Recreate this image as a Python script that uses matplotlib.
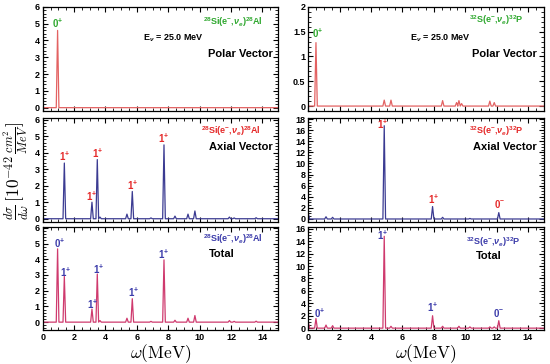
import matplotlib.pyplot as plt
from matplotlib.ticker import MultipleLocator, FormatStrFormatter

plt.rcParams["font.family"] = ["Liberation Sans", "DejaVu Sans"]
plt.rcParams["mathtext.fontset"] = "custom"
plt.rcParams["mathtext.rm"] = "Liberation Sans:bold"
plt.rcParams["mathtext.it"] = "Liberation Sans:italic:bold"
plt.rcParams["mathtext.bf"] = "Liberation Sans:bold"

# peak positions (MeV) and heights
si_polar_x = [0.95]
si_polar_y = [4.6]
si_axial_x = [1.38, 3.14, 3.48, 3.65, 5.37, 5.71, 6.9, 7.73, 8.43, 9.26, 9.7, 11.9, 12.2, 13.6]
si_axial_y = [3.37, 1.0, 3.58, 0.1, 0.28, 1.65, 0.05, 4.47, 0.16, 0.28, 0.47, 0.1, 0.05, 0.06]
si_total_x = [0.95, 1.38, 3.14, 3.48, 3.65, 5.37, 5.71, 6.9, 7.73, 8.43, 9.26, 9.7, 11.9, 12.2, 13.6]
si_total_y = [4.66, 2.91, 0.83, 3.06, 0.1, 0.25, 1.49, 0.05, 3.96, 0.12, 0.25, 0.42, 0.1, 0.05, 0.06]

s_polar_x = [0.49, 4.84, 5.27, 8.56, 9.45, 9.6, 9.77, 11.57, 11.85]
s_polar_y = [1.28, 0.12, 0.12, 0.11, 0.07, 0.11, 0.05, 0.1, 0.07]
s_axial_x = [0.0, 1.13, 1.55, 4.84, 7.92, 8.56, 10.3, 12.14]
s_axial_y = [1.0, 0.4, 0.3, 16.8, 2.24, 0.3, 0.1, 1.15]
s_total_x = [0.0, 0.49, 1.13, 1.55, 4.84, 5.27, 7.92, 8.56, 9.6, 10.3, 11.57, 11.85, 12.14]
s_total_y = [1.0, 1.55, 0.5, 0.4, 14.8, 0.3, 2.0, 0.3, 0.3, 0.2, 0.2, 0.2, 1.2]

# peak labels: text, x, y (label centre)
si_polar_lab = [("0$^{+}$", 0.98, 5.04)]
si_axial_lab = [("1$^{+}$", 1.38, 3.78), ("1$^{+}$", 3.14, 1.38), ("1$^{+}$", 3.5, 3.94),
                ("1$^{+}$", 5.71, 2.0), ("1$^{+}$", 7.73, 4.84)]
si_total_lab = [("0$^{+}$", 1.06, 5.0), ("1$^{+}$", 1.44, 3.19), ("1$^{+}$", 3.18, 1.1),
                ("1$^{+}$", 3.58, 3.38), ("1$^{+}$", 5.77, 1.89), ("1$^{+}$", 7.73, 4.32)]
s_polar_lab = [("0$^{+}$", 0.57, 1.47)]
s_axial_lab = [("1$^{+}$", 4.71, 17.1), ("1$^{+}$", 7.96, 3.58), ("0$^{-}$", 12.17, 2.67)]
s_total_lab = [("0$^{+}$", 0.7, 2.35), ("1$^{+}$", 4.71, 15.0), ("1$^{+}$", 7.9, 3.3),
               ("0$^{-}$", 12.1, 2.5)]

si_reac = "$^{28}$Si(e$^{-}$,$\\nu_{e}$)$^{28}$Al"
s_reac = "$^{32}$S(e$^{-}$,$\\nu_{e}$)$^{32}$P"

POLAR = "#e36262"
AXIAL = "#3b3b92"
TOTAL = "#cf3a6e"
GREEN = "#2fa82f"
RED = "#e52a2a"
BLUE = "#3c3caa"


def spectrum(px, py, w=0.085):
    xs, ys = [0.0], [0.0]
    for p, h in sorted(zip(px, py)):
        xs += [p - w, p, p + w]
        ys += [0.0, h, 0.0]
    xs.append(15.0)
    ys.append(0.0)
    return xs, ys


def panel(ax, px, py, color, ylim, ymaj, ymin, labels, labcol, reac, reacpos,
          title, titlepos, bottom=False, energy=None):
    xs, ys = spectrum(px, py)
    ax.plot(xs, ys, color=color, lw=0.9)
    ax.set_xlim(0, 15)
    ax.set_ylim(*ylim)
    ax.xaxis.set_major_locator(MultipleLocator(2))
    ax.xaxis.set_minor_locator(MultipleLocator(0.5))
    ax.yaxis.set_major_locator(MultipleLocator(ymaj))
    ax.yaxis.set_minor_locator(MultipleLocator(ymin))
    ax.yaxis.set_major_formatter(FormatStrFormatter("%g"))
    ax.tick_params(which="both", direction="in", top=True, right=True,
                   labelsize=6.5, pad=2)
    ax.tick_params(which="major", length=3.5)
    ax.tick_params(which="minor", length=2)
    for t in ax.get_xticklabels() + ax.get_yticklabels():
        t.set_fontweight("bold")
    if not bottom:
        ax.set_xticklabels([])
    for sp in ax.spines.values():
        sp.set_linewidth(0.9)
    for txt, x, y in labels:
        ax.text(x, y, txt, ha="center", va="center", color=labcol, fontsize=7,
                fontweight="bold")
    ax.text(*reacpos, reac, transform=ax.transAxes, ha="center", va="center",
            color=labcol, fontsize=6.5, fontweight="bold")
    ax.text(*titlepos, title, transform=ax.transAxes, ha="center", va="center",
            fontsize=8, fontweight="bold")
    if energy is not None:
        ax.text(*energy, "E$_{\\nu}$ = 25.0 MeV", transform=ax.transAxes,
                ha="center", va="center", fontsize=6.5, fontweight="bold")


fig = plt.figure(figsize=(5.5, 3.64), dpi=100)
lx, rx, w = 0.0776, 0.5605, 0.428
rows = [(0.695, 0.286), (0.39, 0.286), (0.0934, 0.283)]

ax = fig.add_axes([lx, rows[0][0], w, rows[0][1]])
panel(ax, si_polar_x, si_polar_y, POLAR, (-0.2, 6.0), 1, 0.2, si_polar_lab, GREEN,
      si_reac, (0.81, 0.85), "Polar Vector", (0.84, 0.55), energy=(0.555, 0.70))
ax = fig.add_axes([lx, rows[1][0], w, rows[1][1]])
panel(ax, si_axial_x, si_axial_y, AXIAL, (-0.2, 6.1), 1, 0.2, si_axial_lab, RED,
      si_reac, (0.80, 0.87), "Axial Vector", (0.84, 0.72))
ax = fig.add_axes([lx, rows[2][0], w, rows[2][1]])
panel(ax, si_total_x, si_total_y, TOTAL, (-0.5, 6.05), 1, 0.2, si_total_lab, BLUE,
      si_reac, (0.81, 0.88), "Total", (0.76, 0.74), bottom=True)

ax = fig.add_axes([rx, rows[0][0], w, rows[0][1]])
panel(ax, s_polar_x, s_polar_y, POLAR, (-0.1, 2.0), 0.5, 0.1, s_polar_lab, GREEN,
      s_reac, (0.80, 0.87), "Polar Vector", (0.835, 0.545), energy=(0.56, 0.70))
ax = fig.add_axes([rx, rows[1][0], w, rows[1][1]])
panel(ax, s_axial_x, s_axial_y, AXIAL, (-0.55, 18.2), 2, 0.5, s_axial_lab, RED,
      s_reac, (0.80, 0.875), "Axial Vector", (0.835, 0.72))
ax = fig.add_axes([rx, rows[2][0], w, rows[2][1]])
panel(ax, s_total_x, s_total_y, TOTAL, (-0.3, 16.3), 2, 0.5, s_total_lab, BLUE,
      s_reac, (0.786, 0.85), "Total", (0.765, 0.72), bottom=True)

fig.text(0.029, 0.53,
         r"$\frac{d\sigma}{d\omega}\,[10^{-42}\,\frac{cm^{2}}{MeV}]$",
         rotation=90, ha="center", va="center", fontsize=12.5, math_fontfamily="cm")
for x in (lx, rx):
    fig.text(x + w / 2, 0.028, r"$\omega(\mathrm{MeV})$", ha="center",
             va="center", fontsize=12.5, math_fontfamily="cm")

fig.savefig("out.png", dpi=100)
